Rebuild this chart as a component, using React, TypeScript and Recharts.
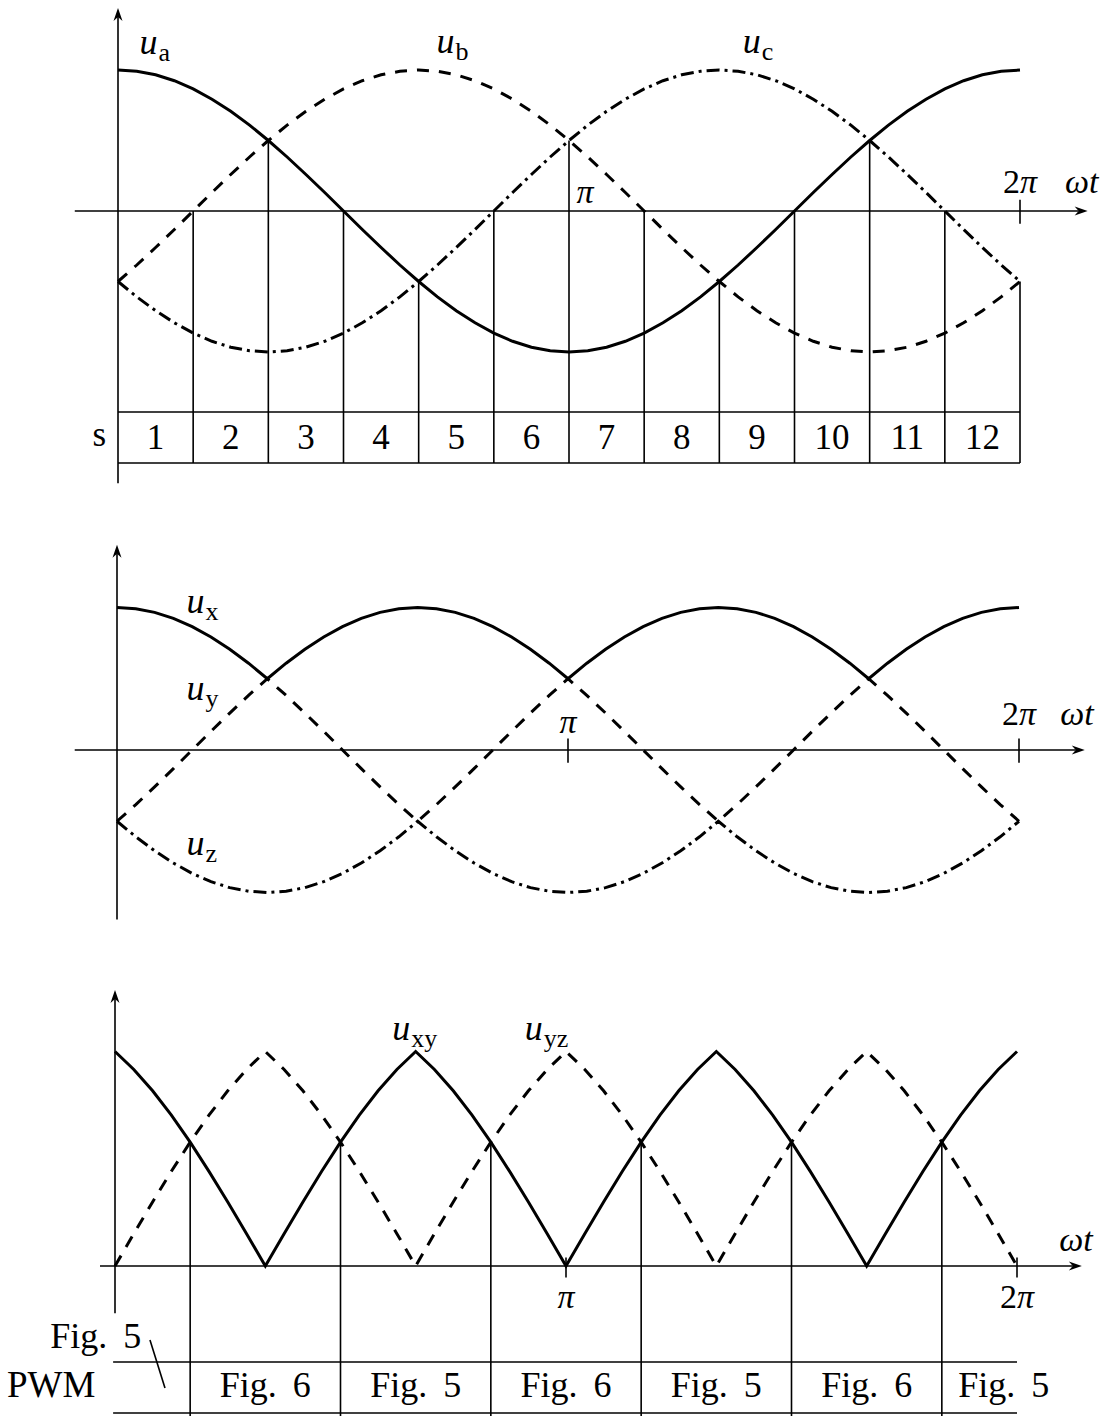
import React from 'react';
import { ComposedChart, Line, XAxis, YAxis, ReferenceLine, ReferenceDot } from 'recharts';

const W = 1109;
const H = 1416;
const FONT = "'Liberation Serif', 'Times New Roman', 'DejaVu Serif', serif";
const INK = '#000';
const txtStyle: React.CSSProperties = { fontFamily: FONT };

// Phase index: k steps of 7.5°, k = 24 ⇔ ωt = π, k = 48 ⇔ ωt = 2π
const stepK = Array.from({ length: 49 }, (_, i) => i);

// Three-phase voltages (per unit)
const ua = [1, .991, .966, .924, .866, .793, .707, .609, .5, .383, .259, .131, 0, -.131, -.259, -.383, -.5, -.609, -.707, -.793, -.866, -.924, -.966, -.991, -1, -.991, -.966, -.924, -.866, -.793, -.707, -.609, -.5, -.383, -.259, -.131, 0, .131, .259, .383, .5, .609, .707, .793, .866, .924, .966, .991, 1];
const ub = [-.5, -.383, -.259, -.131, 0, .131, .259, .383, .5, .609, .707, .793, .866, .924, .966, .991, 1, .991, .966, .924, .866, .793, .707, .609, .5, .383, .259, .131, 0, -.131, -.259, -.383, -.5, -.609, -.707, -.793, -.866, -.924, -.966, -.991, -1, -.991, -.966, -.924, -.866, -.793, -.707, -.609, -.5];
const uc = [-.5, -.609, -.707, -.793, -.866, -.924, -.966, -.991, -1, -.991, -.966, -.924, -.866, -.793, -.707, -.609, -.5, -.383, -.259, -.131, 0, .131, .259, .383, .5, .609, .707, .793, .866, .924, .966, .991, 1, .991, .966, .924, .866, .793, .707, .609, .5, .383, .259, .131, 0, -.131, -.259, -.383, -.5];

// Largest / middle / smallest phase voltage
const ux = [1, .991, .966, .924, .866, .793, .707, .609, .5, .609, .707, .793, .866, .924, .966, .991, 1, .991, .966, .924, .866, .793, .707, .609, .5, .609, .707, .793, .866, .924, .966, .991, 1, .991, .966, .924, .866, .793, .707, .609, .5, .609, .707, .793, .866, .924, .966, .991, 1];
const uy = [-.5, -.383, -.259, -.131, 0, .131, .259, .383, .5, .383, .259, .131, 0, -.131, -.259, -.383, -.5, -.383, -.259, -.131, 0, .131, .259, .383, .5, .383, .259, .131, 0, -.131, -.259, -.383, -.5, -.383, -.259, -.131, 0, .131, .259, .383, .5, .383, .259, .131, 0, -.131, -.259, -.383, -.5];
const uz = [-.5, -.609, -.707, -.793, -.866, -.924, -.966, -.991, -1, -.991, -.966, -.924, -.866, -.793, -.707, -.609, -.5, -.609, -.707, -.793, -.866, -.924, -.966, -.991, -1, -.991, -.966, -.924, -.866, -.793, -.707, -.609, -.5, -.609, -.707, -.793, -.866, -.924, -.966, -.991, -1, -.991, -.966, -.924, -.866, -.793, -.707, -.609, -.5];

// Line-to-line differences
const uxy = [1.5, 1.374, 1.225, 1.055, .866, .662, .448, .226, 0, .226, .448, .662, .866, 1.055, 1.225, 1.374, 1.5, 1.374, 1.225, 1.055, .866, .662, .448, .226, 0, .226, .448, .662, .866, 1.055, 1.225, 1.374, 1.5, 1.374, 1.225, 1.055, .866, .662, .448, .226, 0, .226, .448, .662, .866, 1.055, 1.225, 1.374, 1.5];
const uyz = [0, .226, .448, .662, .866, 1.055, 1.225, 1.374, 1.5, 1.374, 1.225, 1.055, .866, .662, .448, .226, 0, .226, .448, .662, .866, 1.055, 1.225, 1.374, 1.5, 1.374, 1.225, 1.055, .866, .662, .448, .226, 0, .226, .448, .662, .866, 1.055, 1.225, 1.374, 1.5, 1.374, 1.225, 1.055, .866, .662, .448, .226, 0];

// Sector table (30° sectors)
const sectorLabels = ['1', '2', '3', '4', '5', '6', '7', '8', '9', '10', '11', '12'];
const sectorEdgesK = [4, 8, 12, 16, 20, 24, 28, 32, 36, 40, 44, 48];

// PWM scheme table
const pwmEdgesK = [4, 12, 20, 28, 36, 44];
const pwmLabels = ['Fig. 6', 'Fig. 5', 'Fig. 6', 'Fig. 5', 'Fig. 6', 'Fig. 5'];
const pwmFirstLabel = 'Fig. 5';

const rows = stepK.map((k, i) => ({
  k,
  ua: ua[i], ub: ub[i], uc: uc[i],
  ux: ux[i], uy: uy[i], uz: uz[i],
  uxy: uxy[i], uyz: uyz[i],
}));
const at = (arr: number[], k: number) => arr[stepK.indexOf(k)];

// ---- panel geometry (pixels) ----
type Panel = { x0: number; x2pi: number; y0: number; unit: number };
const P1: Panel = { x0: 118, x2pi: 1020, y0: 211, unit: 141 };
const P2: Panel = { x0: 117, x2pi: 1019, y0: 750, unit: 142.5 };
const P3: Panel = { x0: 115, x2pi: 1017, y0: 1266, unit: 143 };
const xDom = (p: Panel): [number, number] => {
  const s = (p.x2pi - p.x0) / 48;
  return [-p.x0 / s, (W - p.x0) / s];
};
const yDom = (p: Panel): [number, number] => [(p.y0 - H) / p.unit, p.y0 / p.unit];

const THIN = 1.6;
const CURVE = 3;
const DASH = '12 10';
const DASHDOT = '13 5 3 5';

// line with a filled arrow head at its end point
const arrowShape = (props: any) => {
  const { x1, y1, x2, y2 } = props;
  const a = Math.atan2(y2 - y1, x2 - x1);
  const c = Math.cos(a);
  const s = Math.sin(a);
  const len = 13, half = 4.5, notch = 9;
  const bx = x2 - len * c, by = y2 - len * s;
  const nx = x2 - notch * c, ny = y2 - notch * s;
  return (
    <g>
      <line x1={x1} y1={y1} x2={nx} y2={ny} stroke={INK} strokeWidth={THIN} />
      <path
        d={`M${x2},${y2} L${bx - half * s},${by + half * c} L${nx},${ny} L${bx + half * s},${by - half * c} Z`}
        fill={INK}
      />
    </g>
  );
};

const seg = (id: string, key: string, a: [number, number], b: [number, number], arrow = false) => (
  <ReferenceLine
    key={key}
    xAxisId={id}
    yAxisId={id}
    segment={[{ x: a[0], y: a[1] }, { x: b[0], y: b[1] }]}
    stroke={INK}
    strokeWidth={THIN}
    ifOverflow="visible"
    {...(arrow ? { shape: arrowShape } : {})}
  />
);

const textDot = (id: string, key: string, k: number, u: number, render: (x: number, y: number) => React.ReactElement) => (
  <ReferenceDot
    key={key}
    xAxisId={id}
    yAxisId={id}
    x={k}
    y={u}
    r={0}
    ifOverflow="visible"
    shape={(p: any) => render(p.cx, p.cy)}
  />
);

const mathLabel = (base: string, sub: string) => (x: number, y: number) => (
  <text x={x} y={y} style={txtStyle} fontSize={36} fill={INK}>
    <tspan fontStyle="italic">{base}</tspan>
    <tspan fontSize={26} dx={1} dy={7}>{sub}</tspan>
  </text>
);

const piLabel = (prefix: string, anchor: 'start' | 'middle') => (x: number, y: number) => (
  <text x={x} y={y} style={txtStyle} fontSize={34} fill={INK} textAnchor={anchor}>
    {prefix ? <tspan>{prefix}</tspan> : null}
    <tspan fontStyle="italic">π</tspan>
  </text>
);

const omegaT = (x: number, y: number) => (
  <text x={x} y={y} style={txtStyle} fontSize={34} fill={INK} fontStyle="italic">ωt</text>
);

const plain = (t: string, anchor: 'start' | 'middle' | 'end', size = 35) => (x: number, y: number) => (
  <text x={x} y={y} style={txtStyle} fontSize={size} fill={INK} textAnchor={anchor}>{t}</text>
);

const figText = (t: string, anchor: 'start' | 'middle') => (x: number, y: number) => {
  const [w, n] = t.split(' ');
  return (
    <text x={x} y={y} style={txtStyle} fontSize={36} fill={INK} textAnchor={anchor}>
      <tspan>{w}</tspan>
      <tspan dx={16}>{n}</tspan>
    </text>
  );
};

export default function App() {
  const sBottom = -1.787;
  const sTop = -1.426;
  const pwmTop = -0.671;
  const pwmBottom = -1.028;
  const pageBottom3 = -1.06;

  return (
    <div style={{ position: 'absolute', left: 0, top: 0, width: W, height: H, background: '#fff' }}>
      <ComposedChart width={W} height={H} data={rows} margin={{ top: 0, right: 0, bottom: 0, left: 0 }}>
        <XAxis xAxisId="p1" hide type="number" dataKey="k" domain={xDom(P1)} allowDataOverflow />
        <XAxis xAxisId="p2" hide type="number" dataKey="k" domain={xDom(P2)} allowDataOverflow />
        <XAxis xAxisId="p3" hide type="number" dataKey="k" domain={xDom(P3)} allowDataOverflow />
        <YAxis yAxisId="p1" hide type="number" domain={yDom(P1)} allowDataOverflow />
        <YAxis yAxisId="p2" hide type="number" domain={yDom(P2)} allowDataOverflow />
        <YAxis yAxisId="p3" hide type="number" domain={yDom(P3)} allowDataOverflow />

        {/* ---------- panel 1: phase voltages and sectors ---------- */}
        {seg('p1', 'ax1', [-2.3, 0], [51.6, 0], true)}
        {seg('p1', 'ay1', [0, -1.93], [0, 1.44], true)}
        {seg('p1', 't1', [48, -0.09], [48, 0.08])}
        {sectorEdgesK.map((k) => seg('p1', `sv${k}`, [k, at(uy, k)], [k, sBottom]))}
        {seg('p1', 'st', [0, sTop], [48, sTop])}
        {seg('p1', 'sb', [0, sBottom], [48, sBottom])}
        {sectorLabels.map((t, i) => textDot('p1', `sl${i}`, 2 + 4 * i, -1.69, plain(t, 'middle')))}
        {textDot('p1', 'sname', -1.0, -1.67, plain('s', 'middle'))}

        <Line xAxisId="p1" yAxisId="p1" dataKey="ua" type="linear" stroke={INK} strokeWidth={CURVE} dot={false} activeDot={false} isAnimationActive={false} />
        <Line xAxisId="p1" yAxisId="p1" dataKey="ub" type="linear" stroke={INK} strokeWidth={CURVE} strokeDasharray={DASH} dot={false} activeDot={false} isAnimationActive={false} />
        <Line xAxisId="p1" yAxisId="p1" dataKey="uc" type="linear" stroke={INK} strokeWidth={CURVE} strokeDasharray={DASHDOT} dot={false} activeDot={false} isAnimationActive={false} />

        {textDot('p1', 'la', 1.15, 1.11, mathLabel('u', 'a'))}
        {textDot('p1', 'lb', 16.95, 1.12, mathLabel('u', 'b'))}
        {textDot('p1', 'lc', 33.25, 1.12, mathLabel('u', 'c'))}
        {textDot('p1', 'pi1', 24.4, 0.06, piLabel('', 'start'))}
        {textDot('p1', 'tpi1', 48.0, 0.13, piLabel('2', 'middle'))}
        {textDot('p1', 'wt1', 50.4, 0.13, omegaT)}

        {/* ---------- panel 2: max / middle / min ---------- */}
        {seg('p2', 'ax2', [-2.25, 0], [51.5, 0], true)}
        {seg('p2', 'ay2', [0, -1.19], [0, 1.44], true)}
        {seg('p2', 't2a', [24, -0.09], [24, 0.08])}
        {seg('p2', 't2b', [48, -0.09], [48, 0.08])}

        <Line xAxisId="p2" yAxisId="p2" dataKey="ux" type="linear" stroke={INK} strokeWidth={CURVE} dot={false} activeDot={false} isAnimationActive={false} />
        <Line xAxisId="p2" yAxisId="p2" dataKey="uy" type="linear" stroke={INK} strokeWidth={CURVE} strokeDasharray={DASH} dot={false} activeDot={false} isAnimationActive={false} />
        <Line xAxisId="p2" yAxisId="p2" dataKey="uz" type="linear" stroke={INK} strokeWidth={CURVE} strokeDasharray={DASHDOT} dot={false} activeDot={false} isAnimationActive={false} />

        {textDot('p2', 'lx', 3.7, 0.96, mathLabel('u', 'x'))}
        {textDot('p2', 'ly', 3.7, 0.35, mathLabel('u', 'y'))}
        {textDot('p2', 'lz', 3.7, -0.74, mathLabel('u', 'z'))}
        {textDot('p2', 'pi2', 24.0, 0.12, piLabel('', 'middle'))}
        {textDot('p2', 'tpi2', 48.0, 0.175, piLabel('2', 'middle'))}
        {textDot('p2', 'wt2', 50.2, 0.175, omegaT)}

        {/* ---------- panel 3: line-to-line differences and PWM scheme ---------- */}
        {seg('p3', 'ax3', [-0.8, 0], [51.45, 0], true)}
        {seg('p3', 'ay3', [0, -0.33], [0, 1.93], true)}
        {seg('p3', 't3a', [24, -0.08], [24, 0.06])}
        {seg('p3', 't3b', [48, -0.08], [48, 0.06])}
        {pwmEdgesK.map((k) => seg('p3', `pv${k}`, [k, at(uxy, k)], [k, pageBottom3]))}
        {seg('p3', 'pt', [-0.1, pwmTop], [48, pwmTop])}
        {seg('p3', 'pb', [-0.1, pwmBottom], [48, pwmBottom])}
        {seg('p3', 'callout', [1.86, -0.517], [2.66, -0.853])}

        <Line xAxisId="p3" yAxisId="p3" dataKey="uxy" type="linear" stroke={INK} strokeWidth={CURVE} dot={false} activeDot={false} isAnimationActive={false} />
        <Line xAxisId="p3" yAxisId="p3" dataKey="uyz" type="linear" stroke={INK} strokeWidth={CURVE} strokeDasharray={DASH} dot={false} activeDot={false} isAnimationActive={false} />

        {textDot('p3', 'lxy', 14.75, 1.58, mathLabel('u', 'xy'))}
        {textDot('p3', 'lyz', 21.8, 1.58, mathLabel('u', 'yz'))}
        {textDot('p3', 'pi3', 24.0, -0.295, piLabel('', 'middle'))}
        {textDot('p3', 'tpi3', 48.0, -0.295, piLabel('2', 'middle'))}
        {textDot('p3', 'wt3', 50.25, 0.105, omegaT)}

        {pwmLabels.map((t, i) => textDot('p3', `pl${i}`, [8, 16, 24, 32, 40, 47.3][i], -0.915, figText(t, 'middle')))}
        {textDot('p3', 'pfirst', -3.45, -0.575, figText(pwmFirstLabel, 'start'))}
        {textDot('p3', 'pname', -5.75, -0.915, plain('PWM', 'start', 37))}
      </ComposedChart>
    </div>
  );
}
